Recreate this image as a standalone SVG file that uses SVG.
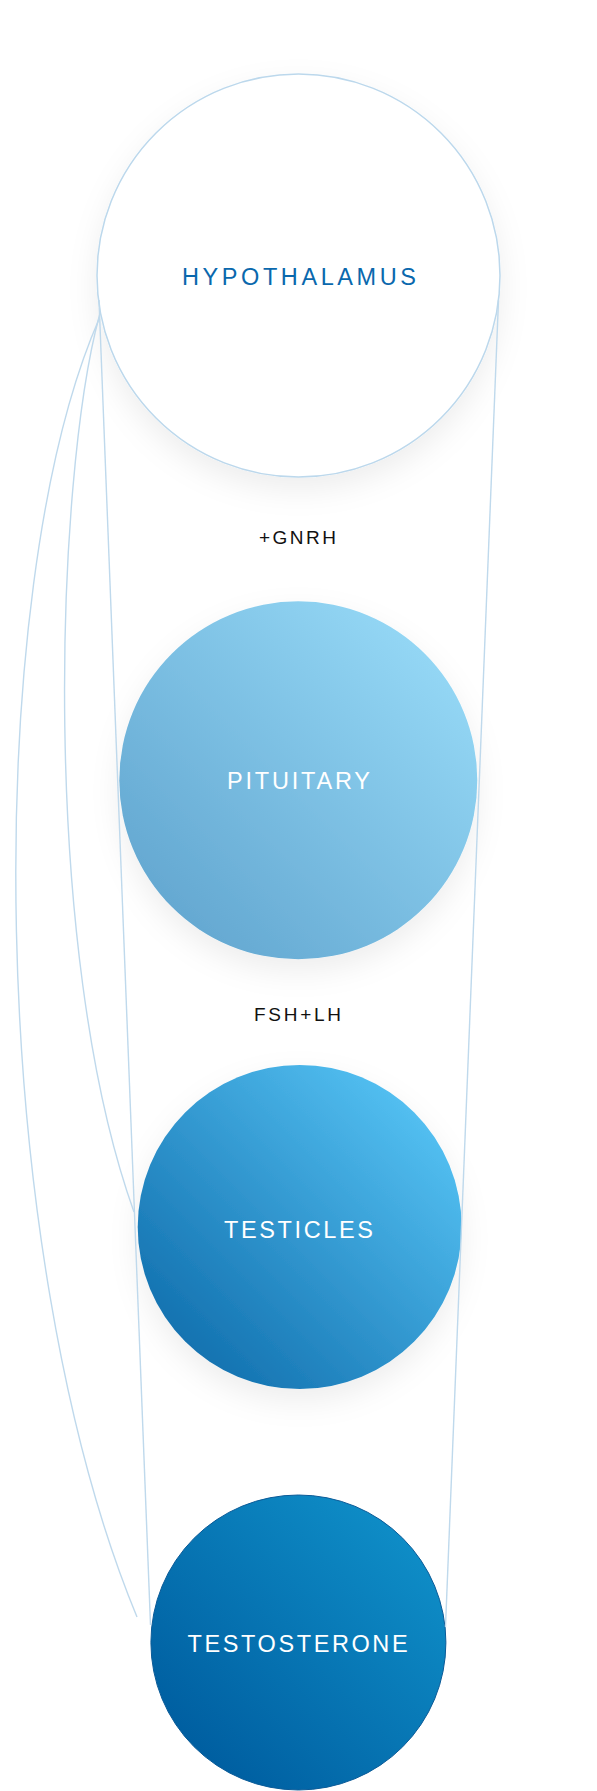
<svg xmlns="http://www.w3.org/2000/svg" width="597" height="1791" viewBox="0 0 597 1791">
  <defs>
    <style>
      .node-label { font-family: "Liberation Sans", Arial, sans-serif; font-size: 23.5px; text-anchor: middle; }
      .flow-label { font-family: "Liberation Sans", Arial, sans-serif; font-size: 19px; fill: #111111; text-anchor: middle; }
      .conn { fill: none; stroke: #bfd9ec; stroke-width: 1.4; }
    </style>
    <filter id="shadow" x="-30%" y="-30%" width="160%" height="170%">
      <feDropShadow dx="0" dy="12" stdDeviation="15" flood-color="#000000" flood-opacity="0.07"/>
    </filter>
    <linearGradient id="gPit" x1="0.15" y1="0.85" x2="0.85" y2="0.15">
      <stop offset="0" stop-color="#65a9d2"/>
      <stop offset="1" stop-color="#93d6f4"/>
    </linearGradient>
    <linearGradient id="gTes" x1="0.15" y1="0.85" x2="0.85" y2="0.15">
      <stop offset="0" stop-color="#1473b1"/>
      <stop offset="1" stop-color="#52bef0"/>
    </linearGradient>
    <linearGradient id="gTst" x1="0.15" y1="0.85" x2="0.85" y2="0.15">
      <stop offset="0" stop-color="#005fa1"/>
      <stop offset="1" stop-color="#0e8cc6"/>
    </linearGradient>
    <linearGradient id="fadeMid" gradientUnits="userSpaceOnUse" x1="0" y1="315" x2="0" y2="1212">
      <stop offset="0" stop-color="#bfd9ec" stop-opacity="1"/>
      <stop offset="0.7" stop-color="#bfd9ec" stop-opacity="0.9"/>
      <stop offset="1" stop-color="#bfd9ec" stop-opacity="0.25"/>
    </linearGradient>
    <linearGradient id="fadeOut" gradientUnits="userSpaceOnUse" x1="0" y1="318" x2="0" y2="1617">
      <stop offset="0" stop-color="#bfd9ec" stop-opacity="1"/>
      <stop offset="0.6" stop-color="#bfd9ec" stop-opacity="0.85"/>
      <stop offset="1" stop-color="#bfd9ec" stop-opacity="0.05"/>
    </linearGradient>
  </defs>

  <rect x="0" y="0" width="597" height="1791" fill="#ffffff"/>

  <g id="hypothalamus">
    <circle cx="298.5" cy="275.5" r="201.5" fill="#ffffff" stroke="#bcd8ec" stroke-width="1.5" filter="url(#shadow)"/>
    <text class="node-label" x="299" y="284.5" fill="#0a68ad" textLength="234" lengthAdjust="spacing">HYPOTHALAMUS</text>
  </g>

  <g id="label-gnrh">
    <text class="flow-label" x="297.5" y="543.5" textLength="77" lengthAdjust="spacing">+GNRH</text>
  </g>

  <g id="pituitary">
    <circle cx="298.3" cy="780.3" r="179" fill="url(#gPit)" filter="url(#shadow)"/>
    <text class="node-label" x="298.5" y="789.3" fill="#ffffff" textLength="143" lengthAdjust="spacing">PITUITARY</text>
  </g>

  <g id="label-fshlh">
    <text class="flow-label" x="297.5" y="1021.4" textLength="87" lengthAdjust="spacing">FSH+LH</text>
  </g>

  <g id="testicles">
    <circle cx="299.7" cy="1227" r="162" fill="url(#gTes)" filter="url(#shadow)"/>
    <text class="node-label" x="298.5" y="1237.5" fill="#ffffff" textLength="149" lengthAdjust="spacing">TESTICLES</text>
  </g>

  <g id="testosterone">
    <circle cx="298.4" cy="1642.5" r="147.5" fill="url(#gTst)" stroke="#0b5b98" stroke-width="1"/>
    <text class="node-label" x="297.6" y="1652.3" fill="#ffffff" textLength="220" lengthAdjust="spacing">TESTOSTERONE</text>
  </g>

  <g id="connectors">
    <line class="conn" x1="498.5" y1="300" x2="445.5" y2="1627"/>
    <line class="conn" x1="99" y1="300" x2="150.5" y2="1625"/>
    <path class="conn" stroke="url(#fadeMid)" d="M99.5,315 C55,480 40,950 134,1212"/>
    <path class="conn" stroke="url(#fadeOut)" d="M99.5,318 C-20,590 -15,1250 137,1617"/>
  </g>
</svg>
